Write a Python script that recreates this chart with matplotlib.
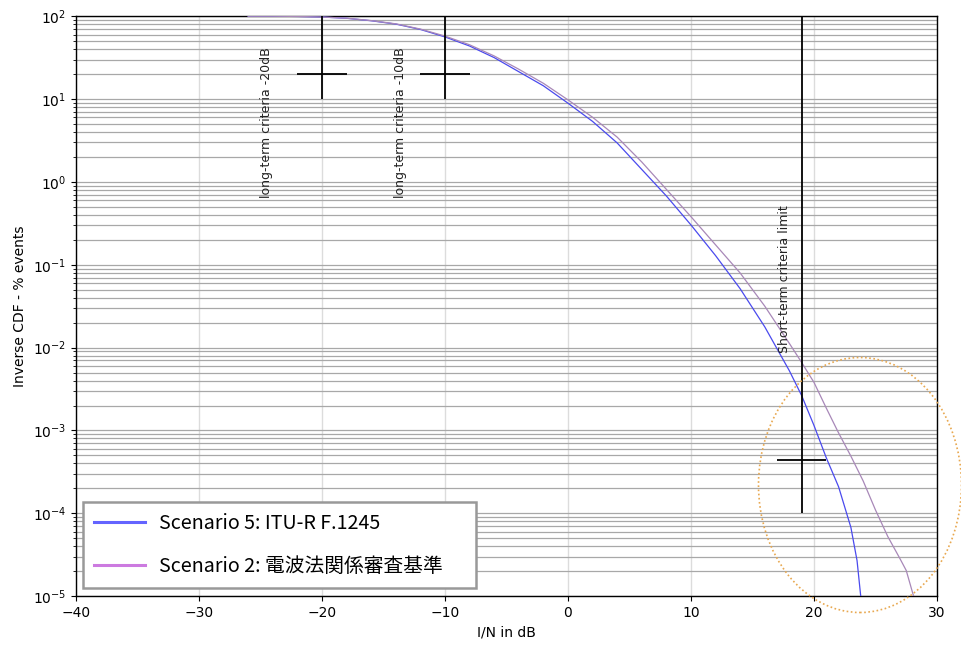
import numpy as np
import matplotlib
matplotlib.use("Agg")
import matplotlib.pyplot as plt
from matplotlib.lines import Line2D
from matplotlib.patches import Ellipse

# I/N (dB) and log10(% events)
x_s5 = [-26, -24, -22, -20, -18, -16, -14, -12, -10, -8, -6, -4, -2, 0, 2, 4, 6, 8, 10,
        12, 14, 16, 18, 19, 20, 21, 22, 23, 23.5, 23.8]
log_s5 = [2.0, 2.0, 1.997, 1.99, 1.975, 1.945, 1.905, 1.84, 1.75, 1.64, 1.50, 1.33, 1.16, 0.95,
          0.73, 0.47, 0.15, -0.17, -0.52, -0.89, -1.29, -1.75, -2.28, -2.58, -2.94, -3.33,
          -3.68, -4.17, -4.57, -5.0]

x_s2 = [-26, -24, -22, -20, -18, -16, -14, -12, -10, -8, -6, -4, -2, 0, 2, 4, 6, 8, 10,
        12, 14, 16, 18, 19, 20, 21, 22, 23, 24, 25, 26, 27, 27.5, 28, 28.1]
log_s2 = [2.0, 2.0, 1.997, 1.99, 1.976, 1.947, 1.908, 1.845, 1.76, 1.655, 1.52, 1.36, 1.19, 0.99,
          0.78, 0.54, 0.24, -0.09, -0.42, -0.76, -1.10, -1.50, -1.95, -2.18, -2.42, -2.73,
          -3.03, -3.31, -3.61, -3.96, -4.28, -4.55, -4.69, -4.95, -5.0]

legend_labels = ["Scenario 5: ITU-R F.1245", "Scenario 2: 電波法関係審査基準"]

# criteria markers
crit_x = [-20, -10, 19]
crit_ylow = [10, 10, 1e-4]
crit_yhigh = [100, 100, 100]
crit_ycross = [20, 20, 4.4e-4]
crit_xl = [-22, -12, 17]
crit_xr = [-18, -8, 21]
crit_labels = ["long-term criteria -20dB", "long-term criteria -10dB", "Short-term criteria limit"]
label_x = [-24.5, -13.6, 17.6]
label_ytop = [42, 42, 0.52]

fig = plt.figure(figsize=(9.62, 6.48), dpi=100)
ax = fig.add_axes([0.079, 0.080, 0.895, 0.895])

ax.semilogy(x_s5, 10 ** np.array(log_s5), color="#4a4aee", lw=0.9, zorder=3)
ax.semilogy(x_s2, 10 ** np.array(log_s2), color="#a888b8", lw=0.9, zorder=3)

for i in range(len(crit_x)):
    ax.vlines(crit_x[i], crit_ylow[i], crit_yhigh[i], color="black", lw=1.3, zorder=4)
    ax.hlines(crit_ycross[i], crit_xl[i], crit_xr[i], color="black", lw=1.3, zorder=4)
    ax.text(label_x[i], label_ytop[i], crit_labels[i], rotation=90, ha="center", va="top",
            fontsize=9, color="#222222")

ax.set_xlim(-40, 30)
ax.set_ylim(1e-5, 1e2)
ax.set_xticks([-40, -30, -20, -10, 0, 10, 20, 30])
ax.set_yticks([10.0 ** k for k in range(-5, 3)])
ax.grid(True, which="both", axis="y", color="#a8a8a8", lw=0.9)
ax.grid(True, which="major", axis="x", color="#dcdcdc", lw=1.0)
ax.tick_params(labelsize=10)
ax.set_xlabel("I/N in dB", fontsize=10)
ax.set_ylabel("Inverse CDF - % events", fontsize=10)
for s in ax.spines.values():
    s.set_linewidth(1.0)

handles = [Line2D([], [], color="#6464ff", lw=2.2), Line2D([], [], color="#cc7ae0", lw=2.2)]
leg = ax.legend(handles, legend_labels, loc="lower left", bbox_to_anchor=(0.0081, 0.0138, 0.4564, 0.2),
                mode="expand", borderaxespad=0, fancybox=False, framealpha=1,
                edgecolor="#999999", handlelength=2.6, handletextpad=0.7, borderpad=0.55,
                labelspacing=1.12, prop={"family": ["Noto Sans CJK JP", "DejaVu Sans"], "size": 14.2})
leg.get_frame().set_linewidth(1.8)

ell = Ellipse((860 / 962, 1 - 485 / 648), 203 / 962, 255 / 648, transform=fig.transFigure,
              fill=False, edgecolor="#e8a850", lw=1.2, ls=(0, (1, 1.5)), clip_on=False, zorder=10)
fig.patches.append(ell)

fig.savefig("out.png", dpi=100)
